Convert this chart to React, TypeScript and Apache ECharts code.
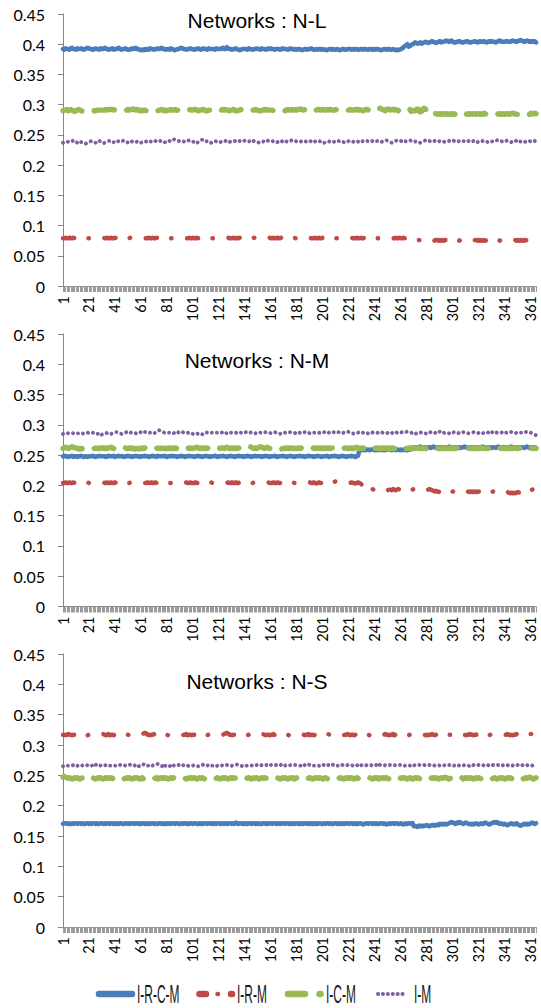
import React, { useEffect, useRef } from "react";
import * as echarts from "echarts";

// x categories: observation number 1..365
const categories: string[] = Array.from({ length: 365 }, (_, i) => String(i + 1));
const seriesNames = ["I-R-C-M", "I-R-M", "I-C-M", "I-M"];
const panelTitles = ["Networks : N-L", "Networks : N-M", "Networks : N-S"];
const yMin = 0;
const yMax = 0.45;
const yStep = 0.05;

// Values. Each letter = base + (letter - 'a') * 0.001
// ---- Networks : N-L ----
const nlBase = [0.385, 0.07, 0.28, 0.23];
const nlIRCM = [
  "hgihh gijhh gihhi hghij", "ihhgh ihhgi hhjih ghhig", "hhijh ghhih gghih ijhhg",
  "fgfhg hgihh ghhih ijhhg", "hhgih gfghh ijihh ghhih", "hghhi hghih hgihh hhgih",
  "hhijh hkihh ghhih gfghh", "hhgih hghhi hhgih hghih", "ihhgh hhghi hhhgh ihhgh",
  "ghhgf ghhgh hihgg hghhg", "hggfg hhghg ghgfg hhggh", "hhghg hhggh hghhg ghhgh",
  "ghhgg fghhg hhggh gfgfg", "hikmn plmop qsrqr sqrst", "srstu tsrst usttu vutuv",
  "tsstt utsst tutss ttuts", "tuttu tstut uttst uvutt", "tuutt uvuut uvwvu tuvut",
  "utuus",
];
const nlIRM = [
  "jjkjj kjjkj jkjjj kjjkj", "jkjjk jjjkj jkjjk jjkjj", "kjjkj jjkjk jjkjj jkjjk",
  "jjkjj jkjjk jjkjj kjjjk", "jkjjj kjjkj jjkjk jjkjj", "kjjkj jkjjj kjjkj jjkjj",
  "jkjjk jjkjj jkjjk jkjjj", "kjjjk jjkjj kjjkj jjkjk", "jjkjj kjjkj jkjjk jjjkj",
  "jkjjk jjkjj kjjjk jjkjj", "kjjkj jjkjk jjkjj jkjjk", "jjkjj jkjjk jjkjj kjjkj",
  "jkjjk jjjkj kjjkj jkjjk", "jjkjj jihgg fgfgg fgfgf", "ggfgf gfggf gfgfg gfgfg",
  "fgfgg fgfgf ggfgf gfggf", "gfgfg fgfgg fgfgf gfgfg", "ggfgf gfggf gfgfg fgfgg",
  "fgfgf",
];
const nlICM = [
  "kllmk lmlkj klmlk jijjk", "kkllk kllll lllml mmmml", "mmmnm lllkl mlmmn mlmlk",
  "lkllk kllml kllkl lmlkl", "kllml lmllk llmml kllml", "lmmlk lllml kkllk lmmlk",
  "lmlml mllkl lmlkk llmll", "mlkkl mllml lkkll mlmll", "llkll mlmll lklml lmllm",
  "lmmnm lmmln mlmml lmmlm", "mllml mmlll mlmml lmlll", "lmlll mmlml lklmm llkml",
  "mnmno nmlkm nmlmm lmlkl", "kjkml mnmjk kkmnk ijnom", "njkjk hgfef efeff efeef",
  "efeff geefe fefef effef", "fefeg fefee ffeee fefef", "effef fgffe effgf feffe",
  "gffgf",
];
const nlIM = [
  "hijij kkljh ihjki hgfgh", "ijkji hjlkj ighij kkihi", "jlkji jklkj hikjk jijki",
  "hijkj ihikk lkjij kjihj", "klkjl mnmlk jiiji jklkj", "ikjhi jlmkj kjijh ijkji",
  "hijkj kjhij klkji jkjkl", "kjijk ljkji hijkj kjlkj", "jkjih ijkli jkjij klkjk",
  "jiijk jkjkl kjhij kjkjk", "ihijk jkjij klkjk jihij", "kjkji jkjhi jkkjk jkjkj",
  "ijklk jijkl kjihi jklkj", "kjikj jklkj ijkji hijkl", "kjkji jkjkj klkji ijkjk",
  "lkjij kjkkj ijkjk jkjki", "jkjkj kjijk jkjkl kjkjk", "jklkj ijkjl mkjih ijkjk",
  "jklkj",
];

// ---- Networks : N-M ----
const nmBase = [0.24, 0.183, 0.25, 0.28];
const nmIRCM = [
  "ijiih iijhi ihiij ihiih", "iiiji hiiji iiihi jiiij", "hiiji iihii jiihi ijiih",
  "iiiji ihiij iihji iiiji", "hiiij iiihi ijiih iijii", "ihiij iihii jiihi iijih",
  "iiiji ihiij iihii jiiih", "iijii hiiji iiihi ijiih", "iiiji hiiij iihii jiihi",
  "iijii ihiij iiihi ijiih", "iiiji hiiij iihii jiihi", "iijii hijrs tstst tsttu",
  "ststt stsst tutst tstts", "tstts sttuw xwxwx yxwxx", "wxxwx yxwxw xxwxx wxyxw",
  "xwxxw xwxxy xwxwx xwxxw", "xwxyx wxxwx wxxwx yxwxx", "wxwxx yxwxx wxwxx wxyxw",
  "xwxxw",
];
const nmIRM = [
  "vvwvv wvvwv vvwvv vwvvw", "vwvvw vvvwv vwvvw vvwvv", "wvxwv vwvvw vvwvv vwvvw",
  "vvwvv wvvwv vwvvu vwvvw", "vwvvw vvvwv uvwvv wvvwv", "vvwvv wvvwv vwvvw vvwvv",
  "wvvwv vvwvv wvvwv vwvvw", "vwvvw vvwvv vwvvw vvvwv", "vvwvv wvvwv vwvvw vvwvv",
  "wvvwv vvwvv wvvwv uvwvv", "vwvvw vvwvx yxwvv wvvwv", "vvwvv uvwvu smlkl kjklk",
  "lkjkl kjklk jkkjl kjklk", "kjklk jkkjk lkjkl kjklk", "jklkj ihihg hihgh ghihg",
  "hghgh ghghi hghgh ghghg", "hgghg hghgh ghghg fgfgf", "gfgfe fefef gfhgi ijkjk",
  "jkljk",
];
const nmICM = [
  "lmnml mnonm mlklk lklml", "lllml mllml mmlml mmnml", "mlmnm lmnml lmlml kllkl",
  "lmlml lmllm lmlml lmlll", "lmlml lmlml mlmlm lmlml", "lmmnm lmlml lmlml lmlkl",
  "mlmml mnmlm lmlml mlmlm", "mnmno nmlml mnonm lmnml", "lmlml kllkl lmlml mlmll",
  "lmlml lmlml lmlml mlmlm", "lmlml mlmml lmlml mlmml", "lmlml mnmlm lmlml mlmlm",
  "lmlml lmlml mlmlm lmlml", "mlmml lmlml mlmml lmlml", "lmlml mlmml lmlml mlmlm",
  "lmlml lmlml mlmlm lmlml", "mlmml lmlml mlmml lmlml", "lmlml mlmml lmlml mlmlm",
  "lmlml",
];
const nmIM = [
  "fgghg hhhgh hgghh gfghh", "gghhg hgfcd efghg hgfgh", "hiihg fghhi ijhih hgfgh",
  "ijhij ihhgf ghikl kjihh", "ihhih ghhjh ihihg hhgfg", "fghgf edegh ihhih hiihh",
  "ghhij hgiih hihhg hihih", "hihgh ihhgh ihhhg hiihh", "ghhih hgfgh ihhgh ihhhg",
  "ihhgh hihih gfghh ihhgh", "hihhg ihhih ghihh ghhij", "ihhgf ghhih ihhgh fghhi",
  "ihhgh ihhhg hihgi jihgh", "hihhi jihhg hfghi hihhg", "fhhih hgihh jkihg hhgih",
  "hihhg hijih hhggh hihhg", "hihgh ihhkj ihgih hhihg", "ihhij ihhgh hihhg hijih",
  "hgfed",
];

// ---- Networks : N-S ----
const nsBase = [0.16, 0.31, 0.24, 0.26];
const nsIRCM = [
  "kllkl kklkl lkllk lkkll", "klkll klkkl lklkl lkllk", "lklkl lkkll klkll kllkl",
  "kllkl klkll klkkl lklkk", "lklkl lkllk klkll klkll", "kllkk lklkl lkllk lklkl",
  "lklkl klkll klkml kllkl", "klkll kllkl klkkl lklkl", "lkllk lklkl lkllk lklkl",
  "lklkl kllkl klklk lkllk", "klkll klkkl lklkl klkll", "kllkl klkll kjkll kllkl",
  "klkkl lklkj klkll kllkk", "lkjkl kllkl gggfh ghghh", "ihghi ihiji kjkjk jklmn",
  "mlkml nmlkl mlkkj kjklk", "jklkl mlkjk lmnmn lklkj", "kjijk lkjkl jihij kjkjk",
  "lmlkl",
];
const nsIRM = [
  "hhghi hhghh ighhg hhihg", "hijih ghhgh hihgh ighhg", "hihgf gghhi hgghh ighhg",
  "hijkj hhghh ighhg hhigh", "hgfgh hihhg hhghh ighhg", "hhigh gghhi hghhg hhigh",
  "hghhi jkjhh ghhgh ihhgh", "hhghh ighhg hhiji hghhg", "hhigh hghhi hghhg hhigh",
  "ghhih hghhi ghhgh hihgh", "hghhi hghhg hhihg hghhi", "hghhg hhigh hghhi hghhg",
  "hhigh ghhih hghhi ghhgh", "hihgh hghhi hghhg hhihg", "hghhi hghhg hhigh hghhi",
  "hghhg hhigh ghhih hghhi", "ghhgh hihgh hghhi hghhg", "hhihg hghhi hghhg hhiji",
  "ijjkj",
];
const nsICM = [
  "hihgf gfefg fgfef gfegf", "fgfgf efgfg fefgf gfgfe", "fgfgh gfefg fgfef gfgfe",
  "fgefg fgfef gfgef gfgfg", "fefgf gfefg hgfgf efgfg", "fgfef gfgfe fgfgf efgfg",
  "fefgf gfefg fgfgf efgfe", "fgfgf efgfg fefgf gfgfe", "fgfgh gfefg fgfef gfgef",
  "gfgfg fefgf gfefg fgfgf", "efgfe fgfgf efgfg fefgf", "gfgfe fgfgh gfefg fgfef",
  "gfgef gfgfg fefgf gfefg", "fgfgf efgfe fgfgf efgfg", "fefgf gfgfe fgfgh gfefg",
  "fgfef gfgef gfgfg fefgf", "gfefg fgfgf efgfe fgfgf", "efgfg fefgf gfgfe fgfgh",
  "gfefg",
];
const nsIM = [
  "fghgg hgghf ggfgh ggfgh", "ggheg hijhg gfghg hgggh", "ggfgh hghgg hihgf ghgeh",
  "hhijh gghig hhiji hfgdh", "hggeh ghhgh igghg hgffg", "ghhgf ghihg hghig ghgfg",
  "hgghg ghhgf ghhhi hhgfg", "hggfg ghhgh gfghh ghhgi", "hhggh hggig hghhg hgghh",
  "hhggh fhhgi hghgg hggfh", "hhgfh hgihg hggih hgggh", "gghgf ghgig hghhg ghhgf",
  "ghgjh ggghh ghhgh hgghh", "hghgg hhgfh ghhgh hghhg", "ghhgh hgghh ghhgh hghhg",
  "hghgh ghhgh hggfh ghhgh", "hghhg hghgh ghhgh hghgh", "ghhgh hghhg hghgh ghhgh",
  "hghhg",
];

const decode = (base: number, chunks: string[]): number[] =>
  chunks
    .join("")
    .replace(/\s+/g, "")
    .split("")
    .map((c) => Math.round((base + (c.charCodeAt(0) - 97) * 0.001) * 1000) / 1000);

const panels = [
  { base: nlBase, raw: [nlIRCM, nlIRM, nlICM, nlIM] },
  { base: nmBase, raw: [nmIRCM, nmIRM, nmICM, nmIM] },
  { base: nsBase, raw: [nsIRCM, nsIRM, nsICM, nsIM] },
];

const colors = ["#4A7EBB", "#BE4B48", "#98B954", "#7D60A0"];
const lineStyles: any[] = [
  { width: 4.6, type: "solid", cap: "round" },
  { width: 4.4, type: [12, 15, 0.5, 16.5], cap: "round" },
  { width: 5.4, type: [21, 13], cap: "round" },
  { width: 3.8, type: [0.1, 5.2], cap: "round" },
];

const gridTops = [14, 334, 654];
const gridHeights = [272, 272.5, 273];
const titleYs = [20, 360, 681];

export default function App() {
  const ref = useRef<HTMLDivElement>(null);
  useEffect(() => {
    document.body.style.margin = "0";
    if (!ref.current) return;
    const chart = echarts.init(ref.current, null, { renderer: "svg" });

    const grid = gridTops.map((t, i) => ({ left: 63, top: t, width: 473, height: gridHeights[i] }));
    const xAxis = panels.map((_, p) => ({
      type: "category",
      gridIndex: p,
      data: categories,
      boundaryGap: false,
      axisLine: { lineStyle: { color: "#868686", width: 1 } },
      axisTick: { show: true, interval: 0, length: 6, lineStyle: { color: "#9c9c9c", width: 1 } },
      axisLabel: { interval: 19, rotate: 90, margin: 10, fontSize: 14.5, fontFamily: "Lato", color: "#000" },
      splitLine: { show: false },
    }));
    const yAxis = panels.map((_, p) => ({
      type: "value",
      gridIndex: p,
      min: yMin,
      max: yMax,
      interval: yStep,
      axisLine: { show: true, lineStyle: { color: "#868686", width: 1 } },
      axisTick: { show: true, length: 5, lineStyle: { color: "#868686" } },
      splitLine: { show: false },
      axisLabel: { fontSize: 16, fontFamily: "Lato", color: "#000", margin: 18 },
    }));
    const series: any[] = [];
    panels.forEach((panel, p) => {
      panel.raw.forEach((raw, s) => {
        series.push({
          type: "line",
          name: seriesNames[s],
          xAxisIndex: p,
          yAxisIndex: p,
          data: decode(panel.base[s], raw),
          symbol: "none",
          showSymbol: false,
          silent: true,
          lineStyle: { color: colors[s], join: "round", ...lineStyles[s] },
          z: 2 + s,
        });
      });
    });

    const legendY = 994;
    const txt = (text: string, x: number) => ({
      type: "text",
      x,
      y: legendY,
      scaleX: 0.46,
      style: {
        text,
        fontSize: 26,
        fontFamily: "Liberation Sans",
        fill: "#1a1a1a",
        align: "left",
        verticalAlign: "middle",
      },
    });
    const seg = (x1: number, x2: number, color: string, w: number, dash?: number[]) => ({
      type: "line",
      shape: { x1, y1: legendY, x2, y2: legendY },
      style: { stroke: color, lineWidth: w, lineCap: "round", lineDash: dash },
    });

    const graphic: any[] = [
      ...panelTitles.map((t, i) => ({
        type: "text",
        x: 257,
        y: titleYs[i],
        style: {
          text: t,
          fontSize: 21,
          fontFamily: "Liberation Sans",
          fill: "#000",
          align: "center",
          verticalAlign: "middle",
        },
      })),
      seg(99, 132, colors[0], 6.5),
      txt(seriesNames[0], 137),
      seg(199.5, 206, colors[1], 6.5),
      seg(217.5, 218, colors[1], 4.5),
      seg(231, 232, colors[1], 6.5),
      txt(seriesNames[1], 237),
      seg(288, 305, colors[2], 6.5),
      seg(319.5, 320.5, colors[2], 6.5),
      txt(seriesNames[2], 326),
      seg(378, 407, colors[3], 4, [0.1, 4.8]),
      txt(seriesNames[3], 414),
    ];

    chart.setOption({
      animation: false,
      backgroundColor: "#fff",
      grid,
      xAxis,
      yAxis,
      series,
      graphic,
    });
    return () => chart.dispose();
  }, []);
  return <div ref={ref} style={{ width: 541, height: 1008 }} />;
}
